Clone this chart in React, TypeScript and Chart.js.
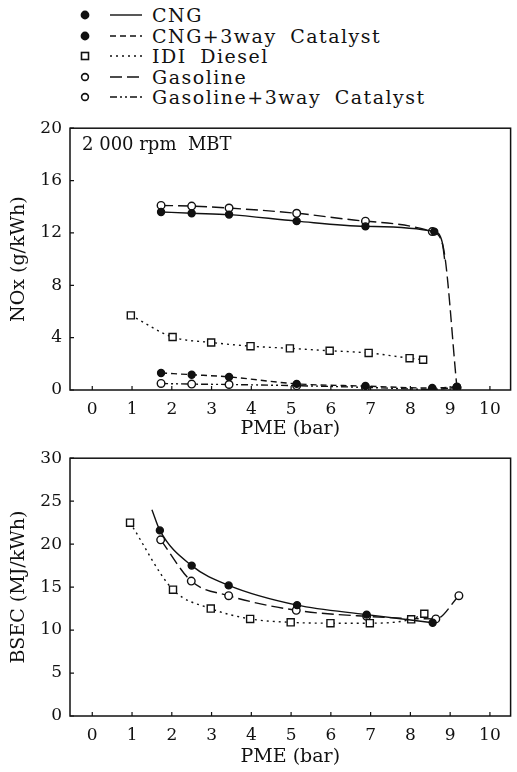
import React, { useEffect, useRef } from "react";
import { Chart, registerables } from "chart.js";

Chart.register(...registerables);

// ---------- data ----------
const seriesLabels = ["CNG", "CNG+3way Catalyst", "IDI Diesel", "Gasoline", "Gasoline+3way Catalyst"];

const xTicks = [0, 1, 2, 3, 4, 5, 6, 7, 8, 9, 10];
const noxTicks = [0, 4, 8, 12, 16, 20];
const bsecTicks = [0, 5, 10, 15, 20, 25, 30];

// NOx (g/kWh) vs PME (bar)
const cngNoxPme = [1.73, 2.5, 3.44, 5.14, 6.87, 8.6, 8.8, 8.86];
const cngNox = [13.6, 13.5, 13.4, 12.9, 12.5, 12.1, 11.3, 10.0];
const cngNoxMeasured = [true, true, true, true, true, true, false, false];

const cngCatNoxPme = [1.73, 2.5, 3.44, 5.14, 6.87, 8.55, 9.17];
const cngCatNox = [1.3, 1.17, 1.0, 0.47, 0.3, 0.15, 0.25];

const dieselNoxPme = [0.97, 2.02, 2.99, 3.98, 4.97, 5.97, 6.95, 7.98, 8.32];
const dieselNox = [5.7, 4.05, 3.63, 3.35, 3.18, 3.0, 2.83, 2.43, 2.31];

const gasNoxPme = [1.73, 2.5, 3.44, 5.14, 6.87, 8.55, 8.82, 9.17];
const gasNox = [14.1, 14.05, 13.9, 13.5, 12.9, 12.1, 11.0, 0.2];
const gasNoxMeasured = [true, true, true, true, true, true, false, true];

const gasCatNoxPme = [1.73, 2.5, 3.44, 5.14, 6.87, 8.55, 9.17];
const gasCatNox = [0.5, 0.45, 0.42, 0.33, 0.2, 0.05, 0.2];

// BSEC (MJ/kWh) vs PME (bar)
const cngBsecPme = [1.5, 1.7, 2.5, 3.43, 5.15, 6.9, 8.56];
const cngBsec = [24.0, 21.6, 17.5, 15.2, 12.9, 11.8, 10.85];
const cngBsecMeasured = [false, true, true, true, true, true, true];

const dieselBsecPme = [0.95, 2.03, 2.98, 3.97, 4.99, 5.99, 6.98, 8.02, 8.35];
const dieselBsec = [22.5, 14.7, 12.5, 11.3, 10.9, 10.8, 10.8, 11.25, 11.9];

const gasBsecPme = [1.72, 2.49, 3.43, 5.13, 6.9, 8.64, 9.22];
const gasBsec = [20.5, 15.7, 14.0, 12.3, 11.6, 11.3, 14.0];

// ---------- styles ----------
const INK = "#111";
const FONT = '"DejaVu Serif", serif';

type Sty = { dash: number[]; shape: "circle" | "rect"; filled: boolean };
const styles: Sty[] = [
  { dash: [], shape: "circle", filled: true },
  { dash: [6, 4], shape: "circle", filled: true },
  { dash: [2, 4], shape: "rect", filled: false },
  { dash: [12, 5], shape: "circle", filled: false },
  { dash: [7, 3, 2, 3, 2, 3], shape: "circle", filled: false },
];

function makeDataset(idx: number, xs: number[], ys: number[], measured?: boolean[]) {
  const s = styles[idx];
  const r = s.shape === "rect" ? 5 : s.filled ? 3.5 : 3.8;
  return {
    label: seriesLabels[idx],
    data: xs.map((x, i) => ({ x, y: ys[i] })),
    borderColor: INK,
    borderWidth: 1.4,
    borderDash: s.dash,
    tension: 0.4,
    cubicInterpolationMode: "monotone" as const,
    fill: false,
    pointStyle: s.shape,
    pointRadius: (c: any) => (measured && !measured[c.dataIndex] ? 0 : r),
    pointBackgroundColor: s.filled ? INK : "#fff",
    pointBorderColor: INK,
    pointBorderWidth: 1.4,
  };
}

function framePlugin(xt: number[], yt: number[], note?: string) {
  return {
    id: "frame",
    beforeDatasetsDraw(chart: any) {
      const { ctx, chartArea: a, scales } = chart;
      ctx.save();
      ctx.strokeStyle = INK;
      ctx.lineWidth = 1.5;
      ctx.strokeRect(a.left, a.top, a.right - a.left, a.bottom - a.top);
      ctx.lineWidth = 1.2;
      ctx.beginPath();
      for (const v of xt) {
        const px = scales.x.getPixelForValue(v);
        ctx.moveTo(px, a.bottom);
        ctx.lineTo(px, a.bottom - 4);
      }
      for (const v of yt) {
        const py = scales.y.getPixelForValue(v);
        ctx.moveTo(a.left, py);
        ctx.lineTo(a.left + 4, py);
      }
      ctx.stroke();
      if (note) {
        ctx.fillStyle = INK;
        ctx.font = `18px ${FONT}`;
        ctx.textBaseline = "middle";
        ctx.textAlign = "left";
        ctx.fillText(note, a.left + 12, a.top + 17);
      }
      ctx.restore();
    },
  };
}

function makeConfig(
  datasets: any[],
  yMax: number,
  yTicks: number[],
  yTitle: string,
  padTop: number,
  xAxisH: number,
  titlePadBottom: number,
  note?: string
): any {
  return {
    type: "line",
    data: { datasets },
    options: {
      responsive: false,
      animation: false,
      devicePixelRatio: 1,
      layout: { padding: { top: padTop, right: 1, left: 0, bottom: 0 } },
      plugins: { legend: { display: false }, tooltip: { enabled: false } },
      scales: {
        x: {
          type: "linear",
          min: -0.56,
          max: 10.52,
          afterBuildTicks: (s: any) => {
            s.ticks = xTicks.map((v) => ({ value: v }));
          },
          afterFit: (s: any) => {
            s.height = xAxisH;
          },
          grid: { display: false, drawTicks: false },
          border: { display: false },
          ticks: { autoSkip: false, maxRotation: 0, padding: 9, color: INK, font: { family: FONT, size: 17 } },
          title: {
            display: true,
            text: "PME (bar)",
            color: INK,
            font: { family: FONT, size: 19 },
            padding: { top: 0, bottom: titlePadBottom },
          },
        },
        y: {
          type: "linear",
          min: 0,
          max: yMax,
          afterBuildTicks: (s: any) => {
            s.ticks = yTicks.map((v) => ({ value: v }));
          },
          afterFit: (s: any) => {
            s.width = 70;
          },
          grid: { display: false, drawTicks: false },
          border: { display: false },
          ticks: { autoSkip: false, padding: 8, color: INK, font: { family: FONT, size: 17 } },
          title: {
            display: true,
            text: yTitle,
            color: INK,
            font: { family: FONT, size: 19 },
            padding: { top: 8, bottom: 0 },
          },
        },
      },
    },
    plugins: [framePlugin(xTicks, yTicks, note)],
  };
}

function ChartCanvas({ top, height, build }: { top: number; height: number; build: () => any }) {
  const ref = useRef<HTMLCanvasElement>(null);
  useEffect(() => {
    const chart = new Chart(ref.current as HTMLCanvasElement, build());
    return () => chart.destroy();
  }, []);
  return (
    <canvas
      ref={ref}
      width={517}
      height={height}
      style={{ position: "absolute", left: 0, top, width: 517, height }}
    />
  );
}

function LegendRow({ idx }: { idx: number }) {
  const s = styles[idx];
  return (
    <div
      style={{
        position: "absolute",
        left: 78,
        top: 5 + idx * 20.6,
        height: 20,
        display: "flex",
        alignItems: "center",
        whiteSpace: "nowrap",
      }}
    >
      <svg width={74} height={20} style={{ display: "block" }}>
        {s.shape === "rect" ? (
          <rect x={3.5} y={6.5} width={7} height={7} fill="#fff" stroke={INK} strokeWidth={1.6} />
        ) : (
          <circle cx={7} cy={10} r={s.filled ? 3.6 : 3.4} fill={s.filled ? INK : "#fff"} stroke={INK} strokeWidth={1.6} />
        )}
        <line
          x1={32}
          y1={10}
          x2={64}
          y2={10}
          stroke={INK}
          strokeWidth={1.4}
          strokeDasharray={s.dash.length ? s.dash.join(" ") : undefined}
        />
      </svg>
      <span
        style={{
          font: `19px ${FONT}`,
          lineHeight: "20px",
          color: INK,
          letterSpacing: "1.5px",
          wordSpacing: "6px",
        }}
      >
        {seriesLabels[idx]}
      </span>
    </div>
  );
}

export default function App() {
  const buildTop = () =>
    makeConfig(
      [
        makeDataset(0, cngNoxPme, cngNox, cngNoxMeasured),
        makeDataset(1, cngCatNoxPme, cngCatNox),
        makeDataset(2, dieselNoxPme, dieselNox),
        makeDataset(3, gasNoxPme, gasNox, gasNoxMeasured),
        makeDataset(4, gasCatNoxPme, gasCatNox),
      ],
      20,
      noxTicks,
      "NOx (g/kWh)",
      15,
      50,
      0,
      "2 000 rpm  MBT"
    );
  const buildBottom = () =>
    makeConfig(
      [
        makeDataset(0, cngBsecPme, cngBsec, cngBsecMeasured),
        makeDataset(2, dieselBsecPme, dieselBsec),
        makeDataset(3, gasBsecPme, gasBsec),
      ],
      30,
      bsecTicks,
      "BSEC (MJ/kWh)",
      13,
      56,
      3.6
    );
  return (
    <div style={{ position: "absolute", left: 0, top: 0, width: 517, height: 772, background: "#fff", overflow: "hidden" }}>
      {seriesLabels.map((_, i) => (
        <LegendRow key={i} idx={i} />
      ))}
      <ChartCanvas top={110} height={330} build={buildTop} />
      <ChartCanvas top={440} height={332} build={buildBottom} />
    </div>
  );
}
